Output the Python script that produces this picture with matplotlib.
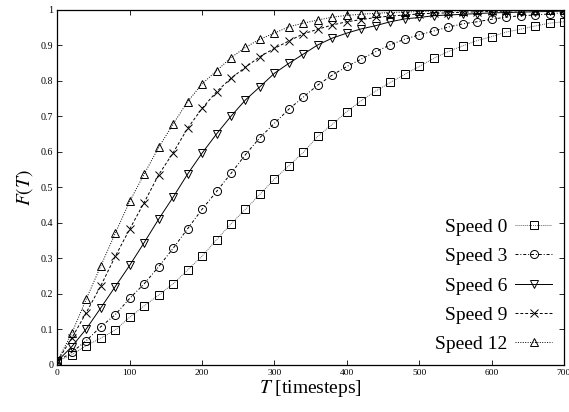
import matplotlib
matplotlib.use("Agg")
import matplotlib.pyplot as plt
import numpy as np

plt.rcParams["font.family"] = ["Liberation Serif", "DejaVu Serif"]
plt.rcParams["mathtext.fontset"] = "stix"

# timesteps sampled every 20
T = np.arange(0, 701, 20)

speed0 = [0.010, 0.028, 0.054, 0.075, 0.098, 0.134, 0.166, 0.196, 0.228, 0.267,
          0.306, 0.352, 0.397, 0.438, 0.480, 0.523, 0.561, 0.598, 0.644, 0.677,
          0.713, 0.744, 0.771, 0.795, 0.818, 0.840, 0.863, 0.882, 0.898, 0.913,
          0.924, 0.937, 0.945, 0.954, 0.962, 0.966]
speed3 = [0.010, 0.035, 0.068, 0.107, 0.141, 0.187, 0.228, 0.276, 0.328, 0.383,
          0.438, 0.488, 0.539, 0.592, 0.640, 0.680, 0.720, 0.754, 0.788, 0.816,
          0.840, 0.861, 0.882, 0.901, 0.917, 0.929, 0.940, 0.951, 0.960, 0.966,
          0.973, 0.979, 0.983, 0.985, 0.988, 0.992]
speed6 = [0.010, 0.051, 0.101, 0.160, 0.220, 0.280, 0.344, 0.410, 0.472, 0.537,
          0.596, 0.650, 0.700, 0.746, 0.783, 0.821, 0.849, 0.875, 0.901, 0.920,
          0.934, 0.946, 0.955, 0.966, 0.974, 0.978, 0.983, 0.985, 0.987, 0.989,
          0.991, 0.992, 0.993, 0.994, 0.995, 0.996]
speed9 = [0.010, 0.075, 0.147, 0.222, 0.305, 0.382, 0.457, 0.535, 0.597, 0.666,
          0.722, 0.769, 0.807, 0.838, 0.868, 0.891, 0.912, 0.932, 0.945, 0.957,
          0.966, 0.972, 0.978, 0.982, 0.985, 0.988, 0.990, 0.991, 0.993, 0.994,
          0.995, 0.996, 0.997, 0.997, 0.998, 0.998]
speed12 = [0.010, 0.089, 0.185, 0.278, 0.370, 0.460, 0.537, 0.612, 0.678, 0.741,
           0.791, 0.828, 0.865, 0.894, 0.917, 0.934, 0.952, 0.962, 0.971, 0.979,
           0.984, 0.987, 0.990, 0.992, 0.993, 0.995, 0.996, 0.997, 0.997, 0.998,
           0.998, 0.999, 0.999, 0.999, 0.999, 1.000]

labels = ["Speed 0", "Speed 3", "Speed 6", "Speed 9", "Speed 12"]
series = [speed0, speed3, speed6, speed9, speed12]
markers = ["s", "o", "v", "x", "^"]
styles = [(0, (1, 1)), (0, (3, 2, 1, 2)), "-", (0, (3, 2)), (0, (1, 1.5))]
colors = ["#666666", "black", "black", "black", "black"]

yticks = [0, 0.1, 0.2, 0.3, 0.4, 0.5, 0.6, 0.7, 0.8, 0.9, 1]
ytick_labels = ["0", "0.1", "0.2", "0.3", "0.4", "0.5", "0.6", "0.7", "0.8", "0.9", "1"]
xticks = [0, 100, 200, 300, 400, 500, 600, 700]

fig = plt.figure(figsize=(5.69, 4.12), dpi=100)
ax = fig.add_axes([0.1007, 0.1146, 0.8905, 0.8619])

for lab, y, m, ls, c in zip(labels, series, markers, styles, colors):
    ax.plot(T, y, linestyle=ls, color=c, lw=0.7, marker=m, markersize=5.8,
            markerfacecolor="none", markeredgecolor="black",
            markeredgewidth=0.7, label=lab)

ax.set_xlim(0, 700)
ax.set_ylim(0, 1)
ax.set_xticks(xticks)
ax.set_xticklabels([str(v) for v in xticks], fontsize=6.8)
ax.set_yticks(yticks)
ax.set_yticklabels(ytick_labels, fontsize=7.2)
ax.tick_params(direction="in", top=True, right=True, length=3.5, width=0.6, pad=3)
for s in ax.spines.values():
    s.set_linewidth(0.9)

ax.set_xlabel("$T$ [timesteps]", fontsize=14, labelpad=1)
ax.set_ylabel("$F(T)$", fontsize=14, labelpad=4)

ax.legend(loc="lower right", frameon=False, markerfirst=False, fontsize=14,
          handlelength=1.9, handletextpad=0.4, labelspacing=0.6,
          borderaxespad=0.4, borderpad=0.2)

fig.savefig("out.png", dpi=100)
